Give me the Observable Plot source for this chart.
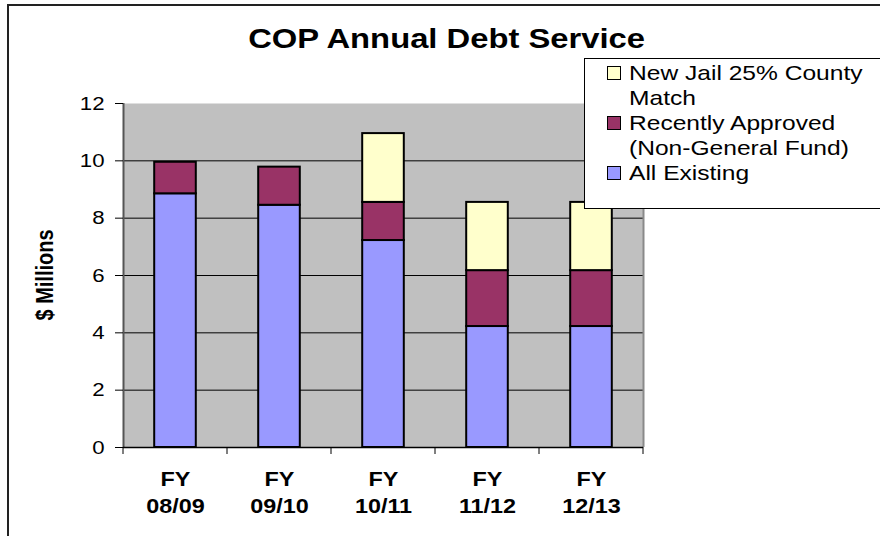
<!DOCTYPE html>
<html>
<head>
<meta charset="utf-8">
<script src="https://cdn.jsdelivr.net/npm/d3@7"></script>
<script src="https://cdn.jsdelivr.net/npm/@observablehq/plot@0.6"></script>
<style>
  html, body { margin: 0; padding: 0; background: #fff; }
  #wrap { position: relative; width: 880px; height: 536px; overflow: hidden; font-family: "Liberation Sans", Arial, sans-serif; }
  #border { position: absolute; left: 7px; top: 4px; width: 900px; height: 600px; border-left: 2px solid #222; border-top: 2px solid #222; box-sizing: border-box; }
  #title { position: absolute; left: 0; top: 23px; width: 894px; text-align: center; }
  #title span { display: inline-block; font-weight: bold; font-size: 28px; color: #000; transform: scaleX(1.17); }
  #legend { position: absolute; left: 584px; top: 58px; width: 310px; height: 151px; background: #fff; border: 1.5px solid #000; box-sizing: border-box; padding-top: 1px; }
  .item { display: flex; align-items: flex-start; font-size: 21px; line-height: 25px; color: #000; }
  .sw { width: 12px; height: 12px; border: 1.5px solid #000; margin: 6px 8px 0 22px; flex: none; }
  .tx { transform: scaleX(1.17); transform-origin: left center; white-space: nowrap; }
</style>
</head>
<body>
<div id="wrap">
  <div id="chart"></div>
  <div id="border"></div>
  <div id="title"><span>COP Annual Debt Service</span></div>
  <div id="legend"></div>
</div>
<script>
const years = ["FY\n08/09", "FY\n09/10", "FY\n10/11", "FY\n11/12", "FY\n12/13"];
const seriesNames = ["All Existing", "Recently Approved (Non-General Fund)", "New Jail 25% County Match"];
const legendLabels = ["New Jail 25% County\nMatch", "Recently Approved\n(Non-General Fund)", "All Existing"];
const allExisting = [8.85, 8.45, 7.22, 4.22, 4.22];
const recentlyApproved = [1.1, 1.33, 1.33, 1.95, 1.95];
const newJail = [0, 0, 2.4, 2.38, 2.38];
const colors = ["#9999ff", "#993366", "#ffffcc"];
const yTicks = [0, 2, 4, 6, 8, 10, 12];

const rows = [];
years.forEach((y, i) => {
  rows.push({year: y, series: seriesNames[0], value: allExisting[i]});
  rows.push({year: y, series: seriesNames[1], value: recentlyApproved[i]});
  rows.push({year: y, series: seriesNames[2], value: newJail[i]});
});
const barRows = rows.filter(d => d.value > 0);

const W = 880, H = 536;
const mL = 123, mR = 237, mT = 103, mB = 89;
const band = (W - mL - mR) / years.length;
const SX = 1.17;

const chart = Plot.plot({
  width: W,
  height: H,
  marginLeft: mL,
  marginRight: mR,
  marginTop: mT,
  marginBottom: mB,
  style: {fontFamily: "'Liberation Sans', Arial, sans-serif", background: "transparent", overflow: "visible"},
  x: {type: "band", domain: years, padding: 0},
  y: {type: "linear", domain: [0, 12]},
  color: {domain: seriesNames, range: colors},
  marks: [
    Plot.frame({fill: "#c0c0c0", stroke: null}),
    Plot.ruleY(yTicks.filter(t => t > 0 && t < 12), {stroke: "#000", strokeWidth: 1}),
    Plot.ruleX([years[0]], {x: d => d, dx: -band / 2, y1: 0, y2: 12, stroke: "#555", strokeWidth: 2}),
    Plot.ruleX([years[years.length - 1]], {x: d => d, dx: band / 2, y1: 0, y2: 12, stroke: "#8a8a8a", strokeWidth: 2}),
    Plot.barY(barRows, Plot.stackY({
      x: "year", y: "value", fill: "series", order: seriesNames,
      stroke: "#000", strokeWidth: 2, insetLeft: band * 0.3, insetRight: band * 0.3
    })),
    Plot.ruleY([0], {stroke: "#000", strokeWidth: 1.5}),
    Plot.axisY({ticks: yTicks, tickSize: 8, tickPadding: 11, fontSize: 19, label: null, stroke: "#000"}),
    Plot.axisX({tickSize: 0, tickPadding: 19, fontSize: 20, fontWeight: "bold", label: null, lineHeight: 1.35})
  ]
});
document.getElementById("chart").appendChild(chart);

const xs = chart.scale("x");
const ys = chart.scale("y");
const svg = d3.select(chart);

// horizontally stretch tick labels like the original
svg.selectAll("g[aria-label='y-axis tick label'] text, g[aria-label='x-axis tick label'] text").each(function() {
  const t = this.getAttribute("transform") || "";
  this.setAttribute("transform", t + ` scale(${SX},1)`);
});

// boundary ticks below the x axis
const bounds = years.map(y => xs.apply(y)).concat([xs.apply(years[years.length - 1]) + xs.bandwidth]);
svg.append("g").selectAll("line").data(bounds).join("line")
  .attr("x1", d => d).attr("x2", d => d)
  .attr("y1", ys.apply(0)).attr("y2", ys.apply(0) + 7)
  .attr("stroke", "#000");
svg.append("text")
  .attr("transform", `translate(53,${(ys.apply(0) + ys.apply(12)) / 2}) rotate(-90) scale(1,${SX})`)
  .attr("text-anchor", "middle")
  .attr("font-weight", "bold")
  .attr("font-size", 20)
  .attr("font-family", "'Liberation Sans', Arial, sans-serif")
  .text("$ Millions");

const legend = document.getElementById("legend");
legendLabels.forEach((lab, i) => {
  const c = colors[colors.length - 1 - i];
  const it = document.createElement("div");
  it.className = "item";
  const sw = document.createElement("div");
  sw.className = "sw";
  sw.style.background = c;
  const tx = document.createElement("div");
  tx.className = "tx";
  tx.innerHTML = lab.split("\n").join("<br>");
  it.appendChild(sw);
  it.appendChild(tx);
  legend.appendChild(it);
});
</script>
</body>
</html>
